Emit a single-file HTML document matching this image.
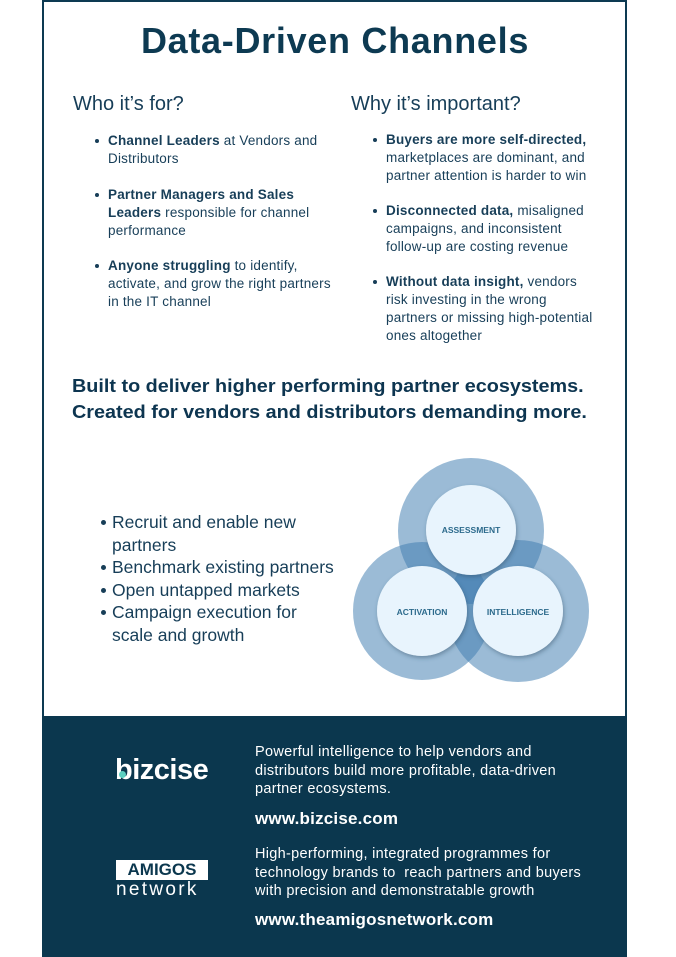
<!DOCTYPE html>
<html><head><meta charset="utf-8"><style>
*{margin:0;padding:0;box-sizing:border-box}
body{width:676px;height:957px;background:#fff;position:relative;overflow:hidden;font-family:"Liberation Sans",sans-serif;color:#0d3550}
.frame{position:absolute;left:42px;top:0;width:585px;height:957px;border:2px solid #0d3a52}
.t{position:absolute;white-space:nowrap}
.b{font-weight:bold}
.li{position:absolute;font-size:13.5px;line-height:18px;color:#173e58;white-space:nowrap;letter-spacing:0.2px}
.li:before{content:"";position:absolute;left:-13px;top:7px;width:4px;height:4px;border-radius:50%;background:#173e58}
.foot{position:absolute;left:42px;top:716px;width:585px;height:241px;background:#0b374e}
.ft{position:absolute;color:#fff;font-size:14.5px;line-height:18.5px;white-space:nowrap;letter-spacing:0.3px}
</style></head><body>
<div class="frame"></div>
<div class="t b" style="left:0;width:670px;text-align:center;top:20px;font-size:36px;color:#0d3a52;letter-spacing:0.7px">Data-Driven Channels</div>
<div class="t" style="left:73px;top:93px;font-size:20px;color:#173e58">Who it’s for?</div>
<div class="t" style="left:351px;top:93px;font-size:20px;color:#173e58">Why it’s important?</div>

<div class="li" style="left:108px;top:132px"><b>Channel Leaders</b> at Vendors and<br>Distributors</div>
<div class="li" style="left:108px;top:186px"><b>Partner Managers and Sales<br>Leaders</b> responsible for channel<br>performance</div>
<div class="li" style="left:108px;top:257px"><b>Anyone struggling</b> to identify,<br>activate, and grow the right partners<br>in the IT channel</div>

<div class="li" style="left:386px;top:131px"><b>Buyers are more self-directed,</b><br>marketplaces are dominant, and<br>partner attention is harder to win</div>
<div class="li" style="left:386px;top:202px"><b>Disconnected data,</b> misaligned<br>campaigns, and inconsistent<br>follow-up are costing revenue</div>
<div class="li" style="left:386px;top:273px"><b>Without data insight,</b> vendors<br>risk investing in the wrong<br>partners or missing high-potential<br>ones altogether</div>

<div class="t b" style="left:72px;top:373px;font-size:18px;line-height:26px;color:#0d3550;transform:scaleX(1.1);transform-origin:left">Built to deliver higher performing partner ecosystems.<br>Created for vendors and distributors demanding more.</div>

<div style="position:absolute;left:112px;top:511px;font-size:17.5px;line-height:22.5px;color:#173e58;white-space:nowrap">
<div>Recruit and enable new<br>partners</div>
<div>Benchmark existing partners</div>
<div>Open untapped markets</div>
<div>Campaign execution for<br>scale and growth</div>
</div>
<div style="position:absolute;left:101px;top:520px;width:5px;height:5px;border-radius:50%;background:#173e58"></div>
<div style="position:absolute;left:101px;top:565px;width:5px;height:5px;border-radius:50%;background:#173e58"></div>
<div style="position:absolute;left:101px;top:588px;width:5px;height:5px;border-radius:50%;background:#173e58"></div>
<div style="position:absolute;left:101px;top:610px;width:5px;height:5px;border-radius:50%;background:#173e58"></div>

<svg style="position:absolute;left:0;top:0" width="676" height="957">
<defs><filter id="s" x="-30%" y="-30%" width="160%" height="160%"><feDropShadow dx="1" dy="2" stdDeviation="2" flood-color="#2a4a60" flood-opacity="0.45"/></filter></defs>
<g fill="#3f7db0" fill-opacity="0.52">
<circle cx="471" cy="531" r="73"/>
<circle cx="422" cy="611" r="69"/>
<circle cx="518" cy="611" r="71"/>
</g>
<g fill="#e8f4fd" filter="url(#s)">
<circle cx="471" cy="530" r="45"/>
<circle cx="422" cy="611" r="45"/>
<circle cx="518" cy="611" r="45"/>
</g>
<g font-family="Liberation Sans" font-weight="bold" font-size="8.5" fill="#2c6a8c" text-anchor="middle">
<text x="471" y="533">ASSESSMENT</text>
<text x="422" y="615">ACTIVATION</text>
<text x="518" y="615">INTELLIGENCE</text>
</g>
</svg>

<div class="foot"></div>
<div class="t b" style="left:115px;top:754px;font-size:29px;color:#fff;letter-spacing:-0.5px">bizcise</div>
<div style="position:absolute;left:119px;top:771px;width:7px;height:7px;border-radius:50%;background:#5ccfc0"></div>
<div class="t b" style="left:116px;top:860px;width:92px;height:20px;background:#fff;color:#0b374e;font-size:17px;line-height:20px;text-align:center">AMIGOS</div>
<div class="t" style="left:116px;top:879px;font-size:19px;color:#fff;letter-spacing:2.3px">network</div>

<div class="ft" style="left:255px;top:743px">Powerful intelligence to help vendors and<br>distributors build more profitable, data-driven<br>partner ecosystems.</div>
<div class="ft b" style="left:255px;top:810px;font-size:17px;letter-spacing:0.2px">www.bizcise.com</div>
<div class="ft" style="left:255px;top:845px">High-performing, integrated programmes for<br>technology brands to &nbsp;reach partners and buyers<br>with precision and demonstratable growth</div>
<div class="ft b" style="left:255px;top:911px;font-size:17px;letter-spacing:0.2px">www.theamigosnetwork.com</div>
</body></html>
